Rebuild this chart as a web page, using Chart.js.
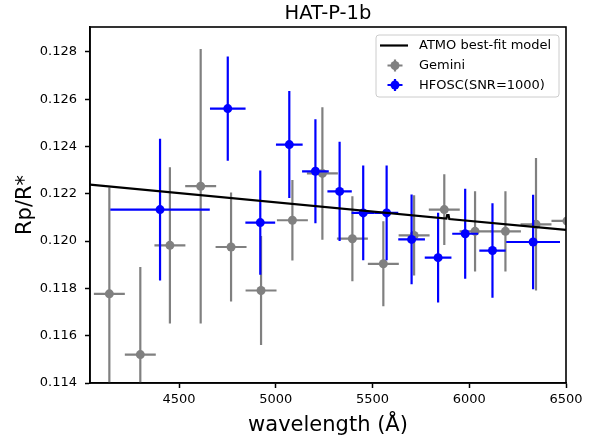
<!DOCTYPE html>
<html>
<head>
<meta charset="utf-8">
<script src="https://cdn.jsdelivr.net/npm/chart.js@4.4.1/dist/chart.umd.min.js"></script>
<style>
html,body{margin:0;padding:0;background:#fff;}
#wrap{width:595px;height:441px;position:relative;}
</style>
</head>
<body>
<div id="wrap"><canvas id="c"></canvas></div>
<script>
// ---- data ----
const geminiWave = [4140, 4300, 4453, 4612, 4769, 4924, 5086, 5241, 5396, 5556, 5715, 5871, 6030, 6187, 6345, 6505];
const geminiRp   = [0.11777, 0.11520, 0.11982, 0.12232, 0.11975, 0.11791, 0.12088, 0.12286, 0.12010, 0.11904, 0.12024, 0.12133, 0.12041, 0.12041, 0.12071, 0.12085];
const geminiErr  = [0.0045, 0.0037, 0.0033, 0.0058, 0.0023, 0.0023, 0.0017, 0.0028, 0.0018, 0.0018, 0.0017, 0.0015, 0.0017, 0.0017, 0.0028, 0.0017];
const geminiBin  = [80, 80, 80, 80, 80, 80, 80, 80, 80, 80, 80, 80, 80, 80, 80, 80];

const hfoscWave = [4402, 4752, 4920, 5070, 5205, 5330, 5452, 5573, 5702, 5839, 5979, 6120, 6330];
const hfoscRp   = [0.12133, 0.12560, 0.12078, 0.12408, 0.12295, 0.12210, 0.12119, 0.12119, 0.12007, 0.11930, 0.12031, 0.11960, 0.11996];
const hfoscErr  = [0.0030, 0.0022, 0.0022, 0.00226, 0.0022, 0.0021, 0.0020, 0.0020, 0.0019, 0.0019, 0.0019, 0.0020, 0.0020];
const hfoscBin  = [257, 92, 77, 69, 69, 63, 60, 60, 69, 69, 67, 68, 139];

const modelWave = [4040, 5882, 5886, 5893, 5897, 6500];
const modelRp   = [0.12239, 0.12095, 0.12110, 0.12110, 0.12093, 0.120475];

const xTicks = [4500, 5000, 5500, 6000, 6500];
const yTicks = [0.114, 0.116, 0.118, 0.120, 0.122, 0.124, 0.126, 0.128];

const FONT = "'DejaVu Sans', sans-serif";

const pts = (xs, ys) => xs.map((v, i) => ({x: v, y: ys[i]}));

const errorBars = {
  id: 'errorBars',
  beforeDatasetDraw(chart, args) {
    const ds = chart.data.datasets[args.index];
    if (!ds.errY) return;
    const {ctx, chartArea: a, scales: {x, y}} = chart;
    ctx.save();
    ctx.beginPath();
    ctx.rect(a.left, a.top, a.right - a.left, a.bottom - a.top);
    ctx.clip();
    ctx.strokeStyle = ds.backgroundColor;
    ctx.lineWidth = 2.2;
    ds.data.forEach((p, i) => {
      const ex = ds.errX[i], ey = ds.errY[i];
      const px = x.getPixelForValue(p.x), py = y.getPixelForValue(p.y);
      ctx.beginPath();
      ctx.moveTo(x.getPixelForValue(p.x - ex), py);
      ctx.lineTo(x.getPixelForValue(p.x + ex), py);
      ctx.moveTo(px, y.getPixelForValue(p.y - ey));
      ctx.lineTo(px, y.getPixelForValue(p.y + ey));
      ctx.stroke();
    });
    ctx.restore();
  }
};

const frameAndLegend = {
  id: 'frameAndLegend',
  afterDatasetsDraw(chart) {
    const {ctx, chartArea: a} = chart;
    ctx.save();
    ctx.strokeStyle = '#000';
    ctx.lineWidth = 1.6;
    ctx.strokeRect(a.left, a.top, a.right - a.left, a.bottom - a.top);

    // legend
    const bw = 183, bh = 62;
    const bx = a.right - 7 - bw, by = a.top + 8;
    ctx.beginPath();
    if (ctx.roundRect) ctx.roundRect(bx, by, bw, bh, 3); else ctx.rect(bx, by, bw, bh);
    ctx.fillStyle = 'rgba(255,255,255,0.8)';
    ctx.fill();
    ctx.strokeStyle = '#cccccc';
    ctx.lineWidth = 1;
    ctx.stroke();

    const hx0 = bx + 4, hx1 = bx + 32, hxc = bx + 19, tx = bx + 43;
    const rows = [by + 10.5, by + 30.5, by + 50];
    const items = chart.data.datasets; // model, Gemini, HFOSC
    ctx.font = "13px " + FONT;
    ctx.textBaseline = 'middle';
    ctx.textAlign = 'left';
    items.forEach((ds, k) => {
      const ry = rows[k];
      if (ds.errY) {
        ctx.strokeStyle = ds.backgroundColor;
        ctx.lineWidth = 2.2;
        ctx.beginPath();
        ctx.moveTo(hxc - 7.5, ry); ctx.lineTo(hxc + 7.5, ry);
        ctx.moveTo(hxc, ry - 6); ctx.lineTo(hxc, ry + 6);
        ctx.stroke();
        ctx.fillStyle = ds.backgroundColor;
        ctx.beginPath(); ctx.arc(hxc, ry, 4.5, 0, Math.PI * 2); ctx.fill();
      } else {
        ctx.strokeStyle = ds.borderColor;
        ctx.lineWidth = 2.2;
        ctx.beginPath(); ctx.moveTo(hx0, ry); ctx.lineTo(hx1, ry); ctx.stroke();
      }
      ctx.fillStyle = '#000';
      ctx.fillText(ds.label, tx, ry + 0.5);
    });
    ctx.restore();
  }
};

new Chart(document.getElementById('c'), {
  type: 'scatter',
  data: {
    datasets: [
      {
        label: 'ATMO best-fit model',
        type: 'line',
        order: 0,
        data: pts(modelWave, modelRp),
        borderColor: '#000', backgroundColor: '#000',
        borderWidth: 2.2, pointRadius: 0, tension: 0, fill: false
      },
      {
        label: 'Gemini',
        order: 2,
        data: pts(geminiWave, geminiRp),
        errX: geminiBin, errY: geminiErr,
        backgroundColor: '#808080', borderColor: '#808080',
        pointRadius: 4.5, pointBorderWidth: 0, pointHoverRadius: 4.5
      },
      {
        label: 'HFOSC(SNR=1000)',
        order: 1,
        data: pts(hfoscWave, hfoscRp),
        errX: hfoscBin, errY: hfoscErr,
        backgroundColor: '#0000ff', borderColor: '#0000ff',
        pointRadius: 4.5, pointBorderWidth: 0, pointHoverRadius: 4.5
      }
    ]
  },
  options: {
    responsive: true,
    maintainAspectRatio: false,
    animation: false,
    events: [],
    layout: {padding: {left: 0, right: 29, top: 0, bottom: 0}},
    scales: {
      x: {
        type: 'linear', min: 4040, max: 6500,
        afterFit: s => { s.height = 58; },
        afterBuildTicks: s => { s.ticks = xTicks.map(v => ({value: v})); },
        grid: {display: true, drawOnChartArea: false, drawTicks: true, tickLength: 5, tickColor: '#000', tickWidth: 1.5},
        border: {display: true, color: '#000', width: 1.6},
        ticks: {color: '#000', font: {family: FONT, size: 13}, padding: 4, maxRotation: 0, callback: v => String(v)},
        title: {display: true, text: 'wavelength (Å)', color: '#000', font: {family: FONT, size: 21}, padding: {top: 0, bottom: 3}}
      },
      y: {
        type: 'linear', min: 0.114, max: 0.12905,
        afterFit: s => { s.width = 90; },
        afterBuildTicks: s => { s.ticks = yTicks.map(v => ({value: v})); },
        grid: {display: true, drawOnChartArea: false, drawTicks: true, tickLength: 5, tickColor: '#000', tickWidth: 1.5},
        border: {display: true, color: '#000', width: 1.6},
        ticks: {color: '#000', font: {family: FONT, size: 13}, padding: 8, callback: v => v.toFixed(3)},
        title: {display: true, text: 'Rp/R*', color: '#000', font: {family: FONT, size: 21}, padding: {top: 13, bottom: 0}}
      }
    },
    plugins: {
      legend: {display: false},
      tooltip: {enabled: false},
      title: {
        display: true, text: 'HAT-P-1b', fullSize: false, color: '#000',
        font: {family: FONT, size: 19.5, weight: 'normal'},
        padding: {top: 2.5, bottom: 1.1}
      }
    }
  },
  plugins: [errorBars, frameAndLegend]
});
</script>
</body>
</html>
